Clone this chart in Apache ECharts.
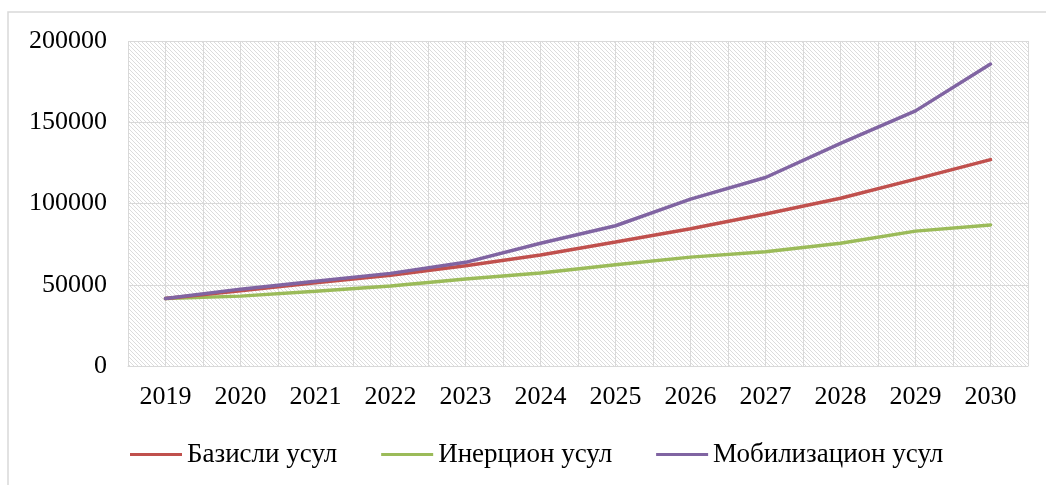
<!DOCTYPE html>
<html>
<head>
<meta charset="utf-8">
<script src="https://cdn.jsdelivr.net/npm/echarts@6/dist/echarts.min.js"></script>
<style>
html,body{margin:0;padding:0;background:#fff;}
#chart{width:1046px;height:485px;}
</style>
</head>
<body>
<div id="chart"></div>
<script>
const years = ['2019','2020','2021','2022','2023','2024','2025','2026','2027','2028','2029','2030'];
const seriesNames = ['Базисли усул', 'Инерцион усул', 'Мобилизацион усул'];
const basisValues = [41600, 46300, 51300, 55800, 61700, 68300, 76300, 84500, 93500, 103200, 115000, 127000];
const inertiaValues = [41600, 43000, 46000, 49200, 53500, 57300, 62300, 67000, 70300, 75500, 83000, 86800];
const mobilValues = [41600, 47300, 52200, 57000, 63800, 75500, 86300, 102700, 116000, 137000, 157000, 185800];
const yTicks = [0, 50000, 100000, 150000, 200000];

// hatch pattern
const tile = document.createElement('canvas');
tile.width = 4; tile.height = 4;
const g = tile.getContext('2d');
g.fillStyle = '#ffffff';
g.fillRect(0,0,4,4);
g.strokeStyle = '#dcdcdc';
g.lineWidth = 1;
g.beginPath();
g.moveTo(-1,-1); g.lineTo(5,5);
g.moveTo(-1,3); g.lineTo(1,5);
g.moveTo(3,-1); g.lineTo(5,1);
g.stroke();

const halfCats = [];
years.forEach(y => { halfCats.push(y + 'a'); halfCats.push(y + 'b'); });

const font = 'Liberation Serif';
const chart = echarts.init(document.getElementById('chart'));
chart.setOption({
  animation: false,
  backgroundColor: '#ffffff',
  graphic: [{
    type: 'rect', shape: {x: 8, y: 12, width: 2000, height: 2000},
    style: {fill: 'none', stroke: '#d9d9d9', lineWidth: 1.5}, silent: true, z: -1
  }],
  grid: {
    left: 128, right: 18, top: 41, bottom: 119,
    show: true, borderWidth: 0,
    backgroundColor: {image: tile, repeat: 'repeat'}
  },
  legend: {
    data: seriesNames,
    left: 125, top: 436,
    icon: 'rect', itemWidth: 52, itemHeight: 3, itemGap: 44,
    textStyle: {fontFamily: font, fontSize: 27, color: '#000'}
  },
  xAxis: [{
    type: 'category', data: years, boundaryGap: true,
    axisLine: {show: true, lineStyle: {color: '#d9d9d9', width: 1}},
    axisTick: {show: false},
    axisLabel: {fontFamily: font, fontSize: 26, color: '#000', margin: 18},
    splitLine: {show: false}
  }, {
    type: 'category', data: halfCats, boundaryGap: true, position: 'bottom',
    axisLine: {show: false}, axisTick: {show: false}, axisLabel: {show: false},
    splitLine: {show: true, interval: 0, lineStyle: {color: '#d9d9d9', width: 1}}
  }],
  yAxis: {
    type: 'value', min: yTicks[0], max: yTicks[yTicks.length-1], interval: 50000,
    axisLine: {show: false}, axisTick: {show: false},
    axisLabel: {fontFamily: font, fontSize: 26, color: '#000', margin: 21,
      formatter: v => String(v)},
    splitLine: {show: true, lineStyle: {color: '#d9d9d9', width: 1}}
  },
  series: [
    {name: seriesNames[0], type: 'line', data: basisValues, symbol: 'none', xAxisIndex: 0,
     lineStyle: {color: '#C0504D', width: 3.5, cap: 'round'}, itemStyle: {color: '#C0504D'}, z: 3},
    {name: seriesNames[1], type: 'line', data: inertiaValues, symbol: 'none', xAxisIndex: 0,
     lineStyle: {color: '#9BBB59', width: 3.5, cap: 'round'}, itemStyle: {color: '#9BBB59'}, z: 2},
    {name: seriesNames[2], type: 'line', data: mobilValues, symbol: 'none', xAxisIndex: 0,
     lineStyle: {color: '#8064A2', width: 3.5, cap: 'round'}, itemStyle: {color: '#8064A2'}, z: 4}
  ]
});
</script>
</body>
</html>
